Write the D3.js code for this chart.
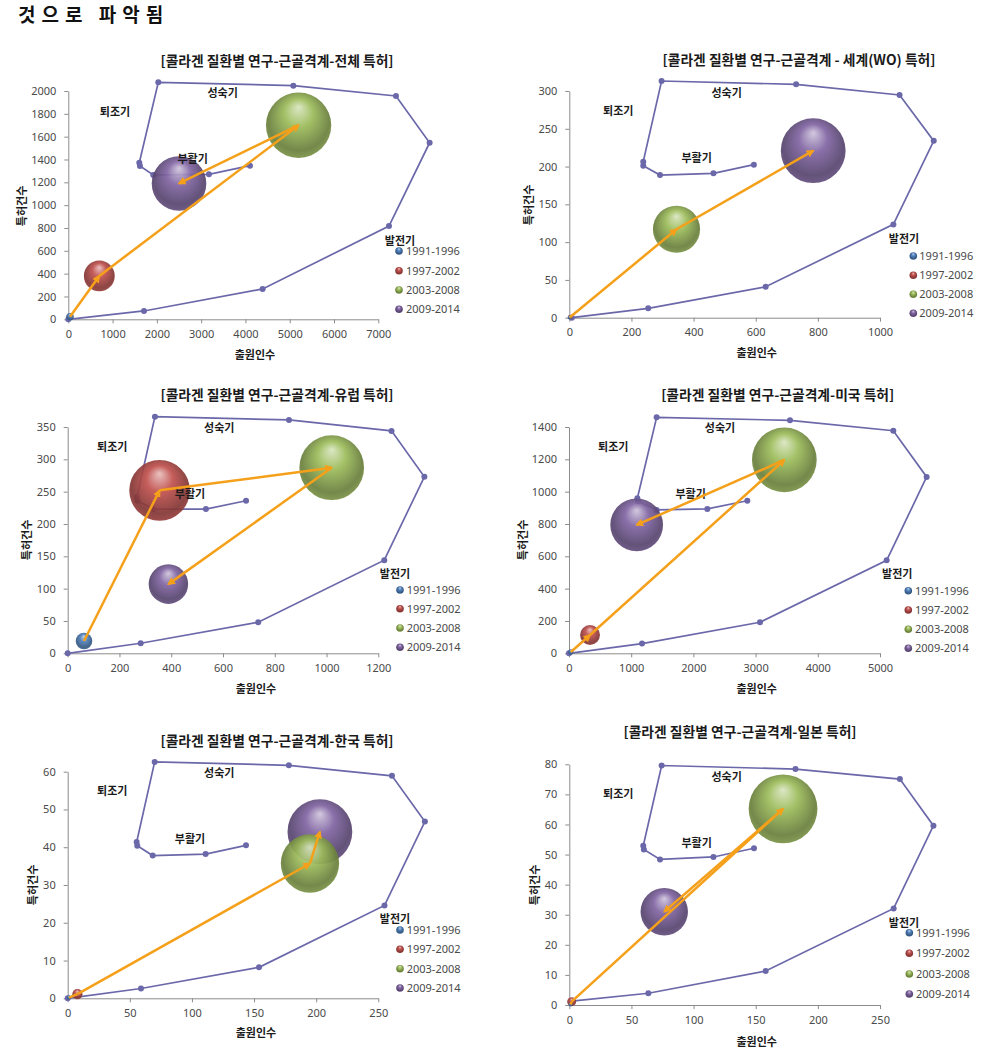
<!DOCTYPE html>
<html><head><meta charset="utf-8">
<script src="https://cdn.jsdelivr.net/npm/d3@7"></script>
<style>
body{margin:0;background:#fff;}
svg text{font-family:"Noto Sans CJK KR","Noto Sans",sans-serif;}
</style></head><body>
<svg id="c" width="996" height="1064"></svg>
<script>
// ---------- DATA ----------
const periods = ["1991-1996","1997-2002","2003-2008","2009-2014"];
const periodColors = ["#4F81BD","#C0504D","#9BBB59","#8064A2"];
const phaseNames = ["성숙기","퇴조기","부활기","발전기"];
const headerText = "것으로 파악됨";
const titles = [
  "[콜라겐 질환별 연구-근골격계-전체 특허]",
  "[콜라겐 질환별 연구-근골격계 - 세계(WO) 특허]",
  "[콜라겐 질환별 연구-근골격계-유럽 특허]",
  "[콜라겐 질환별 연구-근골격계-미국 특허]",
  "[콜라겐 질환별 연구-근골격계-한국 특허]",
  "[콜라겐 질환별 연구-근골격계-일본 특허]"
];
const xAxisTitle = "출원인수";
const yAxisTitle = "특허건수";

// 전체
const totalApplicants = [38, 700, 5200, 2500];
const totalPatents    = [23, 380, 1700, 1190];
const totalCycleX = [0,1709,4388,7241,8159,7399,5081,2032,1603,1618,1919,3176,4102];
const totalCycleY = [0,73,266,817,1547,1956,2047,2076,1372,1343,1264,1270,1346];
const totalXTicks = [0,1000,2000,3000,4000,5000,6000,7000];
const totalYTicks = [0,200,400,600,800,1000,1200,1400,1600,1800,2000];

// 세계(WO)
const woApplicants = [1, 3, 345, 785];
const woPatents    = [0.3, 1, 117, 221];
const woCycleX = [8,254,632,1043,1173,1063,730,297,238,238,292,464,594];
const woCycleY = [0,12.4,41,123.5,234,294.7,308.8,313.2,206.5,201,188.8,191,202.5];
const woXTicks = [0,200,400,600,800,1000];
const woYTicks = [0,50,100,150,200,250,300];

// 유럽
const epApplicants = [63, 355, 1020, 389];
const epPatents    = [19, 252, 287, 107];
const epCycleX = [0,282,736,1223,1378,1251,855,337,268,270,331,534,689];
const epCycleY = [0,15.5,48,144,273,344,361,366,242,236,223,223,236];
const epXTicks = [0,200,400,600,800,1000,1200];
const epYTicks = [0,50,100,150,200,250,300,350];

// 미국
const usApplicants = [30, 338, 3462, 1088];
const usPatents    = [8, 113, 1196, 794];
const usCycleX = [0,1174,3071,5107,5750,5214,3553,1409,1099,1110,1410,2224,2867];
const usCycleY = [0,60,192,575,1091,1377,1441,1460,959,940,887,893,944];
const usXTicks = [0,1000,2000,3000,4000,5000];
const usYTicks = [0,200,400,600,800,1000,1200,1400];

// 한국
const krApplicants = [1, 7.8, 195, 203];
const krPatents    = [0.2, 1.1, 35.7, 44.1];
const krCycleX = [0,59,154,255,287.5,261,178,70,55.5,56,68.4,111,143.5];
const krCycleY = [0,2.6,8.2,24.6,46.8,58.9,61.7,62.6,41.4,40.4,37.8,38.2,40.5];
const krXTicks = [0,50,100,150,200,250];
const krYTicks = [0,10,20,30,40,50,60];

// 일본
const jpApplicants = [1, 1.9, 172, 76.4];
const jpPatents    = [0.2, 1.1, 65.2, 31.0];
const jpCycleX = [2,63.6,158,261,293,266,182,74.3,59.5,60,73,116,148.6];
const jpCycleY = [1.3,3.9,11.3,32.1,59.6,75.1,78.4,79.6,52.9,51.7,48.4,49.2,52.1];
const jpXTicks = [0,50,100,150,200,250];
const jpYTicks = [0,10,20,30,40,50,60,70,80];

// ---------- LAYOUT ----------
const panels = [
  {ax:totalApplicants, ay:totalPatents, cx:totalCycleX, cy:totalCycleY, xt:totalXTicks, yt:totalYTicks,
   x0:68.3,x1:378.3,y0:319.3,y1:91, title:[277,60.7], xlab:[255,355], ylab:[21.7,206],
   leg:{mx:399,tx:406,ys:[251,270.7,290,309.3]}, phase:[[222.7,93.3],[115,111.7],[192.7,159.3],[400,241]]},
  {ax:woApplicants, ay:woPatents, cx:woCycleX, cy:woCycleY, xt:woXTicks, yt:woYTicks,
   x0:569.3,x1:880,y0:317.7,y1:91, title:[799,60.3], xlab:[756.7,353.3], ylab:[529.3,205],
   leg:{mx:913.3,tx:919.3,ys:[256,275.3,294.3,313.3]}, phase:[[726.7,92.7],[618.3,111],[696.7,158.3],[904,239]]},
  {ax:epApplicants, ay:epPatents, cx:epCycleX, cy:epCycleY, xt:epXTicks, yt:epYTicks,
   x0:67.7,x1:378.3,y0:653.3,y1:427, title:[277,395], xlab:[256,689.3], ylab:[26.7,540],
   leg:{mx:400,tx:406.7,ys:[590,608.7,628,647.3]}, phase:[[219.3,428.3],[112.3,446.7],[190,494],[395,574]]},
  {ax:usApplicants, ay:usPatents, cx:usCycleX, cy:usCycleY, xt:usXTicks, yt:usYTicks,
   x0:569,x1:880,y0:653.3,y1:427, title:[777.7,395], xlab:[756.7,689.3], ylab:[523.3,540],
   leg:{mx:908.3,tx:915,ys:[590.7,610,629.3,648.3]}, phase:[[720,428.3],[613.3,446.7],[690.7,494],[897.3,574]]},
  {ax:krApplicants, ay:krPatents, cx:krCycleX, cy:krCycleY, xt:krXTicks, yt:krYTicks,
   x0:67.7,x1:378.3,y0:998.3,y1:771.7, title:[277,740.7], xlab:[256,1033.3], ylab:[33.3,885],
   leg:{mx:400,tx:406.7,ys:[930,949.3,968.7,988]}, phase:[[219.3,773.3],[112.3,791],[190,839],[395,919]]},
  {ax:jpApplicants, ay:jpPatents, cx:jpCycleX, cy:jpCycleY, xt:jpXTicks, yt:jpYTicks,
   x0:569.3,x1:880,y0:1005,y1:764.3, title:[740,731.7], xlab:[756.7,1041.7], ylab:[535,885],
   leg:{mx:909.3,tx:916,ys:[932.7,953.3,974,994]}, phase:[[726.7,776.7],[618.3,794.3],[696.7,842.7],[904,923.3]]}
];

const svg = d3.select("#c");
const defs = svg.append("defs");

// sphere gradients
periodColors.forEach((c,i)=>{
  const base = d3.color(c);
  const light = d3.interpolateRgb(c, "#ffffff")(0.62);
  const dark = base.darker(1.1).formatHex();
  const g = defs.append("radialGradient").attr("id","sph"+i)
    .attr("cx","50%").attr("cy","45%").attr("r","55%").attr("fx","50%").attr("fy","22%");
  g.append("stop").attr("offset","0%").attr("stop-color",light);
  g.append("stop").attr("offset","40%").attr("stop-color",c);
  g.append("stop").attr("offset","85%").attr("stop-color",dark);
  g.append("stop").attr("offset","100%").attr("stop-color",base.darker(0.7).formatHex());
});
defs.append("marker").attr("id","arr").attr("viewBox","0 0 10 10").attr("refX",8).attr("refY",5)
  .attr("markerWidth",3.2).attr("markerHeight",3.2).attr("orient","auto")
  .append("path").attr("d","M0,0L10,5L0,10z").attr("fill","#F5A01A");

svg.append("text").attr("x",18).attr("y",22).attr("font-size",19).attr("font-weight","bold")
  .attr("letter-spacing",6).attr("fill","#111").text(headerText);

const lineColor = "#6B68AA";

panels.forEach((p,pi)=>{
  const x = d3.scaleLinear().domain([p.xt[0], p.xt[p.xt.length-1]]).range([p.x0,p.x1]);
  const y = d3.scaleLinear().domain([p.yt[0], p.yt[p.yt.length-1]]).range([p.y0,p.y1]);
  const g = svg.append("g");
  const maxY = d3.max(p.ay);
  const r = d3.scaleSqrt().domain([0,maxY]).range([0,(p.y0-p.y1)*0.143]);

  // axes
  const xa = g.append("g").attr("transform",`translate(0,${p.y0})`)
    .call(d3.axisBottom(x).tickValues(p.xt).tickSize(4).tickSizeOuter(0).tickPadding(7).tickFormat(d3.format("d")));
  const ya = g.append("g").attr("transform",`translate(${p.x0},0)`)
    .call(d3.axisLeft(y).tickValues(p.yt).tickSize(4).tickSizeOuter(0).tickPadding(8).tickFormat(d3.format("d")));
  [xa,ya].forEach(a=>{
    a.selectAll("path,line").attr("stroke","#8C8C8C");
    a.selectAll("text").attr("font-size",11).attr("fill","#4a4a4a")
      .style("font-family","'Noto Sans','DejaVu Sans',sans-serif");
  });

  // lifecycle polygon
  const pts = p.cx.map((v,i)=>[x(v), y(p.cy[i])]);
  g.append("path").attr("d", d3.line()(pts)).attr("fill","none")
    .attr("stroke",lineColor).attr("stroke-width",1.7);
  g.selectAll("circle.v").data(pts).join("circle").attr("class","v")
    .attr("cx",d=>d[0]).attr("cy",d=>d[1]).attr("r",3).attr("fill",lineColor);

  // bubbles (draw large first)
  const bub = periods.map((per,i)=>({i, px:x(p.ax[i]), py:y(p.ay[i]), rr:Math.max(2, r(p.ay[i]))}));
  g.selectAll("circle.b").data(bub.slice().sort((a,b)=>b.rr-a.rr)).join("circle").attr("class","b")
    .attr("cx",d=>d.px).attr("cy",d=>d.py).attr("r",d=>d.rr)
    .attr("fill",d=>`url(#sph${d.i})`).attr("fill-opacity",0.92);

  // phase labels
  phaseNames.forEach((t,i)=>{
    g.append("text").attr("x",p.phase[i][0]).attr("y",p.phase[i][1]).attr("dy","0.35em")
      .attr("text-anchor","middle").attr("font-size",11).attr("font-weight","bold")
      .attr("fill","#1a1a1a").text(t);
  });

  // arrows
  for(let i=0;i<bub.length-1;i++){
    const a=bub[i], b=bub[i+1];
    const len = Math.hypot(b.px-a.px,b.py-a.py);
    g.append("line").attr("x1",a.px).attr("y1",a.py).attr("x2",b.px).attr("y2",b.py)
      .attr("stroke","#F5A01A").attr("stroke-width",2.5)
      .attr("marker-end", len>10 ? "url(#arr)" : null);
  }

  // titles
  g.append("text").attr("x",p.title[0]).attr("y",p.title[1]).attr("dy","0.35em").attr("text-anchor","middle")
    .attr("font-size",13.8).attr("font-weight","bold").attr("fill","#1a1a1a").text(titles[pi]);
  g.append("text").attr("x",p.xlab[0]).attr("y",p.xlab[1]).attr("dy","0.35em").attr("text-anchor","middle")
    .attr("font-size",11).attr("font-weight","bold").attr("fill","#1a1a1a").text(xAxisTitle);
  g.append("text").attr("transform",`translate(${p.ylab[0]},${p.ylab[1]}) rotate(-90)`).attr("dy","0.35em")
    .attr("text-anchor","middle").attr("font-size",11).attr("font-weight","bold").attr("fill","#1a1a1a").text(yAxisTitle);

  // legend
  periods.forEach((per,i)=>{
    g.append("circle").attr("cx",p.leg.mx).attr("cy",p.leg.ys[i]).attr("r",3.8).attr("fill",`url(#sph${i})`);
    g.append("text").attr("x",p.leg.tx).attr("y",p.leg.ys[i]).attr("dy","0.35em").attr("font-size",11)
      .attr("fill","#4a4a4a").style("font-family","'Noto Sans','DejaVu Sans',sans-serif").text(per);
  });
});
</script></body></html>
